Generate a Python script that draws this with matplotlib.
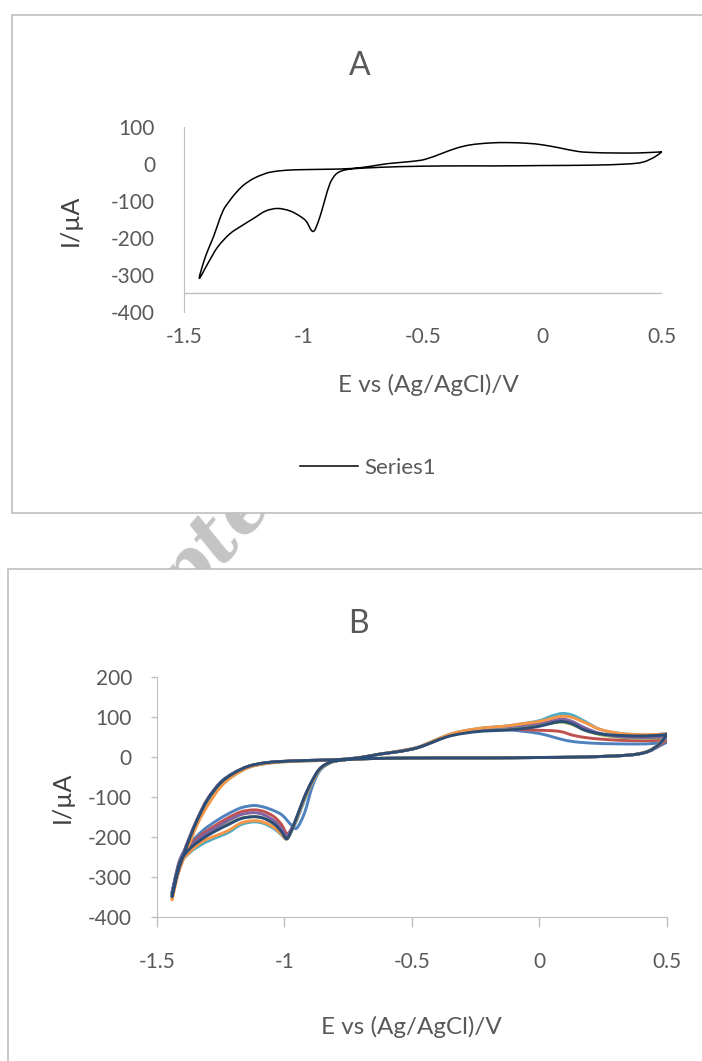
import matplotlib
matplotlib.use("Agg")
import matplotlib.pyplot as plt
import numpy as np
from matplotlib.patches import Rectangle, PathPatch
from matplotlib.path import Path

plt.rcParams['font.family'] = ['Lato', 'DejaVu Sans']
plt.rcParams['axes.unicode_minus'] = False

# ---- panel A: single CV loop (cathodic 0.5 -> -1.44, then anodic back) ----
a_E = [0.50, 0.47, 0.42, 0.35, 0.20, 0.00, -0.20, -0.40, -0.60, -0.72, -0.78, -0.82,
       -0.85, -0.87, -0.89, -0.91, -0.93, -0.95, -0.96, -0.97, -0.99, -1.02, -1.06,
       -1.11, -1.16, -1.21, -1.26, -1.31, -1.36, -1.40, -1.437,
       -1.42, -1.40, -1.378, -1.36, -1.337, -1.31, -1.28, -1.25, -1.21, -1.17, -1.14,
       -1.08, -1.00, -0.90, -0.80, -0.72, -0.65, -0.55, -0.49, -0.42, -0.36, -0.30,
       -0.22, -0.14, -0.06, 0.00, 0.07, 0.15, 0.22, 0.30, 0.40, 0.50]
a_I = [32, 18, 4, -1, -4, -5, -6, -6, -8, -11, -13, -16,
       -22, -32, -54, -95, -140, -175, -183, -178, -155, -140, -127,
       -121, -128, -148, -168, -190, -225, -268, -310,
       -268, -232, -198, -165, -126, -100, -76, -57, -40, -29, -23,
       -18, -16, -15, -13, -7, 0, 6, 12, 28, 42, 51,
       56, 57, 55, 51, 43, 33, 30, 29, 29, 32]

# ---- panel B: repeated cycles, shared potential grid ----
b_E = [0.50, 0.47, 0.43, 0.38, 0.30, 0.15, 0.00, -0.20, -0.40, -0.60, -0.72, -0.78,
       -0.82, -0.86, -0.89, -0.92, -0.95, -0.97, -0.99, -1.01, -1.04, -1.08, -1.12,
       -1.17, -1.22, -1.27, -1.32, -1.37, -1.41, -1.44,
       -1.42, -1.40, -1.37, -1.34, -1.30, -1.25, -1.20, -1.14, -1.07, -0.98, -0.88,
       -0.78, -0.70, -0.62, -0.55, -0.48, -0.42, -0.36, -0.30, -0.22, -0.14, -0.07,
       0.00, 0.05, 0.09, 0.13, 0.18, 0.24, 0.32, 0.42, 0.50]

b_blue = [36, 26, 13, 6, 2, -1, -2, -3, -3, -4, -6, -9,
          -14, -35, -75, -140, -178, -172, -158, -145, -135, -126, -122,
          -128, -143, -162, -185, -218, -258, -340,
          -288, -250, -200, -155, -106, -64, -41, -24, -15, -11, -9,
          -7, -2, 7, 13, 22, 36, 52, 62, 68, 68, 64,
          58, 50, 43, 38, 35, 33, 32, 32, 36]
b_red = [42, 28, 14, 6, 2, -1, -2, -3, -3, -4, -6, -9,
         -14, -30, -62, -105, -155, -180, -192, -170, -150, -137, -133,
         -138, -153, -172, -193, -222, -262, -345,
         -290, -250, -200, -155, -105, -65, -42, -24, -15, -11, -9,
         -7, -2, 7, 13, 22, 36, 52, 62, 69, 70, 68,
         66, 65, 62, 54, 48, 44, 41, 40, 42]
b_green = [48, 30, 14, 6, 2, -1, -2, -3, -3, -4, -6, -9,
           -14, -30, -60, -100, -150, -182, -205, -188, -168, -154, -150,
           -154, -168, -183, -202, -228, -265, -345,
           -292, -252, -202, -156, -106, -66, -42, -24, -15, -11, -9,
           -7, -2, 7, 13, 22, 36, 52, 62, 70, 73, 76,
           80, 84, 86, 80, 66, 55, 48, 46, 48]
b_purple = [50, 30, 14, 6, 2, -1, -2, -3, -3, -4, -6, -9,
            -14, -30, -60, -100, -150, -178, -198, -180, -160, -145, -140,
            -145, -160, -178, -198, -225, -263, -342,
            -290, -250, -200, -155, -105, -65, -42, -24, -15, -11, -9,
            -7, -2, 7, 13, 22, 36, 52, 62, 70, 74, 78,
            84, 90, 94, 88, 72, 58, 50, 48, 50]
b_cyan = [58, 32, 15, 6, 2, -1, -2, -3, -3, -4, -6, -9,
          -16, -34, -66, -108, -158, -185, -206, -196, -180, -167, -163,
          -170, -190, -203, -218, -240, -272, -350,
          -300, -262, -212, -165, -118, -74, -48, -27, -17, -12, -10,
          -7, -2, 7, 14, 23, 38, 54, 64, 72, 76, 82,
          90, 102, 108, 104, 88, 68, 58, 54, 58]
b_orange = [57, 32, 15, 6, 2, -1, -2, -3, -3, -4, -6, -9,
            -15, -32, -64, -104, -154, -183, -206, -194, -177, -164, -160,
            -166, -185, -198, -212, -238, -272, -358,
            -302, -264, -215, -168, -122, -76, -48, -27, -17, -12, -10,
            -7, -2, 7, 14, 23, 38, 54, 64, 72, 76, 82,
            88, 96, 101, 98, 85, 68, 58, 55, 57]
b_navy = [55, 31, 14, 6, 2, -1, -2, -3, -3, -4, -6, -9,
          -14, -30, -60, -100, -150, -182, -205, -188, -168, -154, -150,
          -155, -170, -186, -205, -230, -267, -350,
          -295, -255, -203, -157, -107, -66, -42, -24, -15, -11, -9,
          -7, -2, 7, 13, 22, 36, 50, 58, 64, 66, 70,
          76, 84, 88, 82, 66, 57, 53, 52, 55]

b_series = [b_blue, b_red, b_green, b_purple, b_cyan, b_orange, b_navy]
b_colors = ['#4F81BD', '#C0504D', '#9BBB59', '#8064A2', '#4BACC6', '#F79646', '#2C4D75']

x_ticks = [-1.5, -1, -0.5, 0, 0.5]
x_ticklabels = ['-1.5', '-1', '-0.5', '0', '0.5']
a_yticks = [100, 0, -100, -200, -300, -400]
b_yticks = [200, 100, 0, -100, -200, -300, -400]

grey_txt = '#595959'
grey_ax = '#BFBFBF'

W, H = 702, 1061
fig = plt.figure(figsize=(W / 100, H / 100), dpi=100)


def fx(px):
    return px / W


def fy(py):
    return 1 - py / H


def smooth_line(ax, xs, ys, **kw):
    # Excel-style smoothed line: cubic Bezier through the points, built in display space
    pts = ax.transData.transform(np.column_stack([xs, ys]))
    n = len(pts)
    verts = [pts[0]]
    codes = [Path.MOVETO]
    for i in range(n - 1):
        p0 = pts[max(i - 1, 0)]
        p1 = pts[i]
        p2 = pts[i + 1]
        p3 = pts[min(i + 2, n - 1)]
        c1 = p1 + (p2 - p0) / 6
        c2 = p2 - (p3 - p1) / 6
        verts += [c1, c2, p2]
        codes += [Path.CURVE4] * 3
    verts = ax.transData.inverted().transform(np.array(verts))
    patch = PathPatch(Path(verts, codes), fill=False, capstyle='round', joinstyle='round', **kw)
    ax.add_patch(patch)
    return patch


# faint watermark behind the chart areas
fig.text(fx(338), fy(404), 'Accepted Manuscript', rotation=50, rotation_mode='anchor',
         ha='center', va='center', fontsize=55, fontweight='bold', style='italic',
         family='DejaVu Serif', color='#C4C4C4', zorder=-3)

# chart-area boxes
fig.add_artist(Rectangle((fx(11.7), fy(513)), 1.2, fy(15) - fy(513), transform=fig.transFigure,
                         facecolor='white', edgecolor=grey_ax, lw=1.2, zorder=-1))
fig.add_artist(Rectangle((fx(8.3), -0.2), 1.2, fy(569) + 0.2, transform=fig.transFigure,
                         facecolor='white', edgecolor=grey_ax, lw=1.2, zorder=-1))

# ---------- panel A ----------
axA = fig.add_axes([fx(184.3), fy(311.7), (661.7 - 184.3) / W, (311.7 - 126.7) / H])
axA.set_facecolor('none')
axA.set_xlim(-1.5, 0.5)
axA.set_ylim(-400, 100)
for s in ['top', 'right', 'bottom']:
    axA.spines[s].set_visible(False)
axA.spines['left'].set_color(grey_ax)
axA.axhline(-350, color=grey_ax, lw=1.0)
axA.set_xticks(x_ticks)
axA.set_xticklabels(x_ticklabels)
axA.set_yticks(a_yticks)
axA.tick_params(axis='x', length=0, pad=11, labelsize=15, labelcolor=grey_txt)
axA.tick_params(axis='y', length=0, pad=21, labelsize=15, labelcolor=grey_txt)
smooth_line(axA, a_E, a_I, edgecolor='black', lw=1.1)
legend_line = plt.Line2D([], [], color='black', lw=1.1)

fig.text(fx(360), fy(66), 'A', ha='center', va='center', fontsize=23, color=grey_txt)
fig.text(fx(428), fy(385), 'E vs (Ag/AgCl)/V', ha='center', va='center', fontsize=17.5, color=grey_txt)
fig.text(fx(70), fy(220), 'I/µA', ha='center', va='center', rotation=90, fontsize=18, color='#404040')
fig.legend(handles=[legend_line], labels=['Series1'], loc='center', bbox_to_anchor=(fx(368), fy(468)),
           frameon=False, fontsize=16, handlelength=2.6, handletextpad=0.3, labelcolor=grey_txt)

# ---------- panel B ----------
axB = fig.add_axes([fx(156.7), fy(916.7), (666.7 - 156.7) / W, (916.7 - 676.7) / H])
axB.set_facecolor('none')
axB.set_xlim(-1.5, 0.5)
axB.set_ylim(-400, 200)
for s in ['top', 'right']:
    axB.spines[s].set_visible(False)
for s in ['left', 'bottom']:
    axB.spines[s].set_color(grey_ax)
axB.set_xticks(x_ticks)
axB.set_xticklabels(x_ticklabels)
axB.set_yticks(b_yticks)
axB.tick_params(axis='x', length=7.5, width=1.0, color=grey_ax, pad=18, labelsize=15, labelcolor=grey_txt)
axB.tick_params(axis='y', length=4.3, width=1.0, color=grey_ax, pad=13.5, labelsize=15, labelcolor=grey_txt)
for ys, c in zip(b_series, b_colors):
    smooth_line(axB, b_E, ys, edgecolor=c, lw=2.1)

fig.text(fx(358), fy(624), 'B', ha='center', va='center', fontsize=23, color=grey_txt)
fig.text(fx(411.7), fy(1027), 'E vs (Ag/AgCl)/V', ha='center', va='center', fontsize=17.5, color=grey_txt)
fig.text(fx(62), fy(797), 'I/µA', ha='center', va='center', rotation=90, fontsize=18, color='#404040')

fig.savefig('out.png', dpi=100)
